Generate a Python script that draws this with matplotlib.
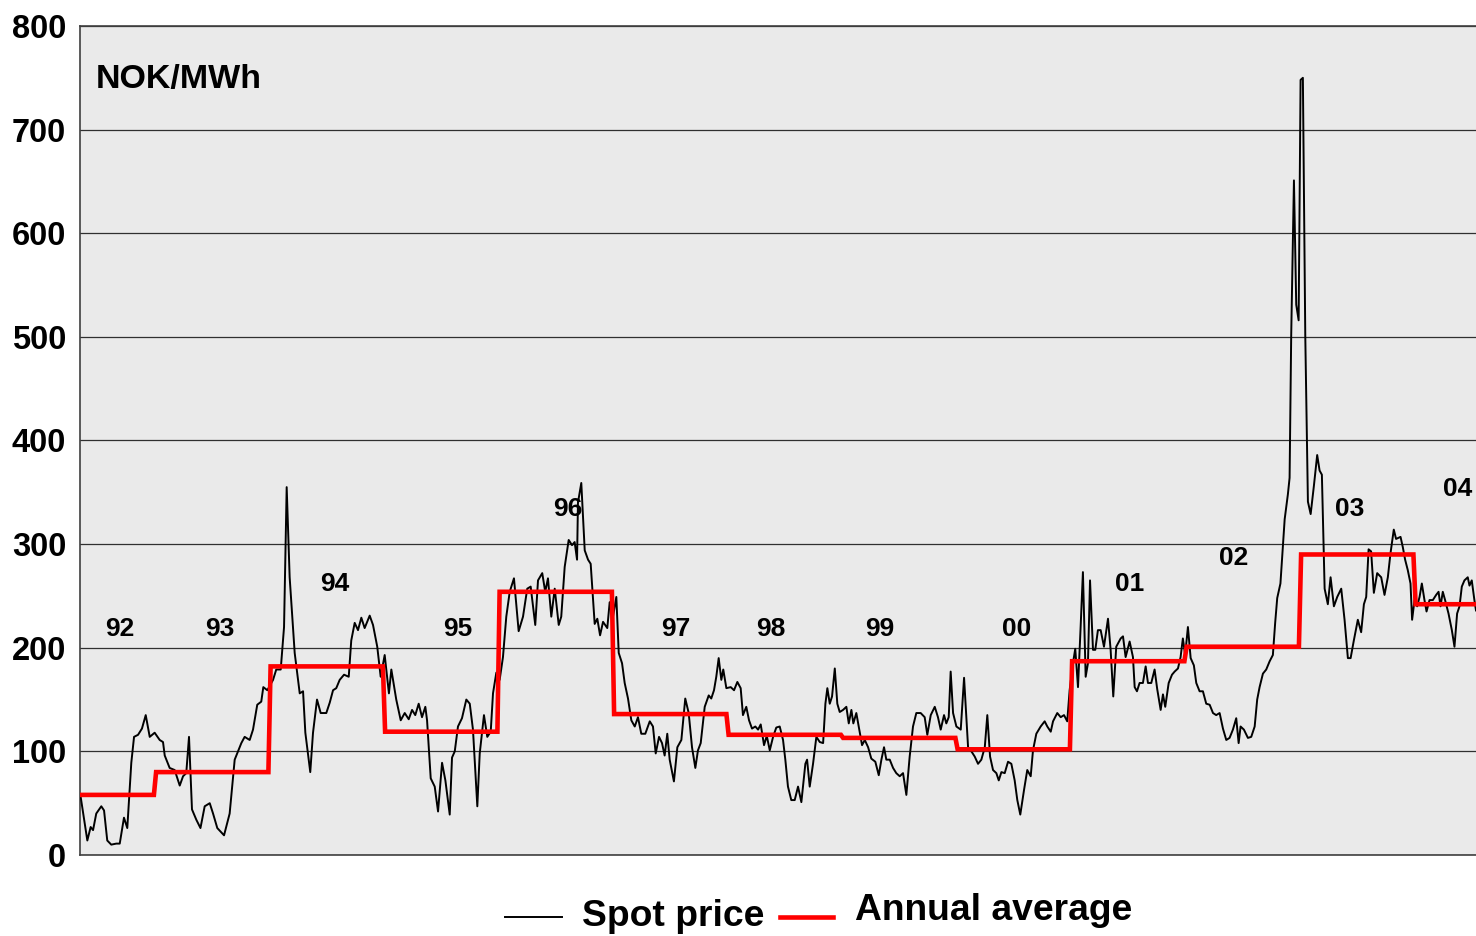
import matplotlib
matplotlib.use("Agg")
import matplotlib.pyplot as plt
from matplotlib.lines import Line2D
import numpy as np

plt.rcParams['font.family'] = ['Liberation Sans', 'DejaVu Sans']

# ---- data ----
spot_time = [
    1992.345, 1992.351, 1992.409, 1992.438, 1992.459, 1992.487, 1992.531, 1992.555, 1992.583, 1992.618,
    1992.662, 1992.692, 1992.729, 1992.758, 1992.793, 1992.817, 1992.852, 1992.886, 1992.919, 1992.954,
    1992.997, 1993.041, 1993.070, 1993.085, 1993.128, 1993.172, 1993.216, 1993.245, 1993.273, 1993.297,
    1993.323, 1993.361, 1993.397, 1993.434, 1993.478, 1993.507, 1993.544, 1993.603, 1993.652, 1993.696,
    1993.754, 1993.783, 1993.827, 1993.856, 1993.893, 1993.928, 1993.946, 1993.981, 1994.031, 1994.059,
    1994.098, 1994.127, 1994.150, 1994.176, 1994.220, 1994.264, 1994.293, 1994.313, 1994.356, 1994.380,
    1994.415, 1994.447, 1994.496, 1994.526, 1994.555, 1994.583, 1994.613, 1994.651, 1994.692, 1994.714,
    1994.744, 1994.773, 1994.802, 1994.831, 1994.875, 1994.904, 1994.941, 1994.971, 1995.006, 1995.043,
    1995.064, 1995.107, 1995.146, 1995.181, 1995.216, 1995.245, 1995.273, 1995.303, 1995.332, 1995.361,
    1995.376, 1995.408, 1995.443, 1995.472, 1995.507, 1995.536, 1995.574, 1995.594, 1995.618, 1995.646,
    1995.681, 1995.719, 1995.749, 1995.777, 1995.815, 1995.836, 1995.873, 1995.902, 1995.932, 1995.952,
    1995.981, 1996.010, 1996.039, 1996.068, 1996.098, 1996.135, 1996.176, 1996.214, 1996.251, 1996.281,
    1996.321, 1996.345, 1996.382, 1996.408, 1996.432, 1996.461, 1996.491, 1996.526, 1996.548, 1996.578,
    1996.613, 1996.642, 1996.665, 1996.686, 1996.694, 1996.723, 1996.753, 1996.782, 1996.805, 1996.840,
    1996.863, 1996.887, 1996.913, 1996.950, 1996.971, 1997.000, 1997.029, 1997.050, 1997.079, 1997.102,
    1997.131, 1997.160, 1997.190, 1997.218, 1997.247, 1997.282, 1997.321, 1997.349, 1997.373, 1997.402,
    1997.428, 1997.451, 1997.474, 1997.495, 1997.532, 1997.562, 1997.597, 1997.631, 1997.661, 1997.690,
    1997.719, 1997.742, 1997.766, 1997.801, 1997.836, 1997.858, 1997.882, 1997.902, 1997.923, 1997.946,
    1997.963, 1997.990, 1998.028, 1998.057, 1998.086, 1998.115, 1998.135, 1998.164, 1998.188, 1998.214,
    1998.243, 1998.267, 1998.290, 1998.319, 1998.343, 1998.369, 1998.398, 1998.426, 1998.456, 1998.485,
    1998.505, 1998.528, 1998.557, 1998.587, 1998.616, 1998.645, 1998.680, 1998.695, 1998.718, 1998.747,
    1998.776, 1998.806, 1998.835, 1998.855, 1998.872, 1998.893, 1998.913, 1998.937, 1998.959, 1998.980,
    1999.009, 1999.038, 1999.059, 1999.082, 1999.099, 1999.125, 1999.146, 1999.175, 1999.199, 1999.228,
    1999.256, 1999.291, 1999.321, 1999.344, 1999.367, 1999.387, 1999.417, 1999.446, 1999.474, 1999.504,
    1999.533, 1999.562, 1999.591, 1999.620, 1999.649, 1999.687, 1999.722, 1999.745, 1999.775, 1999.810,
    1999.838, 1999.862, 1999.891, 1999.911, 1999.932, 1999.949, 1999.970, 1999.999, 2000.037, 2000.066,
    2000.101, 2000.130, 2000.159, 2000.188, 2000.217, 2000.247, 2000.269, 2000.293, 2000.319, 2000.348,
    2000.369, 2000.392, 2000.421, 2000.450, 2000.479, 2000.508, 2000.531, 2000.557, 2000.590, 2000.618,
    2000.648, 2000.668, 2000.697, 2000.735, 2000.770, 2000.793, 2000.823, 2000.843, 2000.880, 2000.910,
    2000.939, 2000.967, 2000.988, 2001.017, 2001.037, 2001.061, 2001.084, 2001.104, 2001.128, 2001.148,
    2001.166, 2001.192, 2001.212, 2001.235, 2001.259, 2001.288, 2001.323, 2001.346, 2001.369, 2001.395,
    2001.434, 2001.454, 2001.477, 2001.512, 2001.541, 2001.556, 2001.576, 2001.599, 2001.628, 2001.652,
    2001.672, 2001.701, 2001.730, 2001.753, 2001.783, 2001.803, 2001.823, 2001.853, 2001.882, 2001.905,
    2001.934, 2001.957, 2001.977, 2001.997, 2002.021, 2002.045, 2002.073, 2002.094, 2002.123, 2002.152,
    2002.181, 2002.211, 2002.240, 2002.268, 2002.298, 2002.327, 2002.356, 2002.385, 2002.414, 2002.443,
    2002.464, 2002.481, 2002.510, 2002.545, 2002.574, 2002.604, 2002.626, 2002.647, 2002.676, 2002.705,
    2002.735, 2002.763, 2002.783, 2002.801, 2002.829, 2002.866, 2002.894, 2002.909, 2002.923, 2002.947,
    2002.967, 2002.988, 2003.005, 2003.025, 2003.046, 2003.069, 2003.093, 2003.121, 2003.150, 2003.171,
    2003.191, 2003.215, 2003.243, 2003.267, 2003.296, 2003.325, 2003.360, 2003.389, 2003.418, 2003.442,
    2003.470, 2003.505, 2003.534, 2003.558, 2003.578, 2003.599, 2003.621, 2003.645, 2003.674, 2003.709,
    2003.738, 2003.767, 2003.790, 2003.819, 2003.839, 2003.878, 2003.898, 2003.918, 2003.941, 2003.965,
    2003.979, 2004.000, 2004.023, 2004.044, 2004.064, 2004.087, 2004.105, 2004.131, 2004.160, 2004.189,
    2004.210, 2004.227, 2004.247, 2004.267, 2004.297, 2004.326, 2004.349, 2004.372, 2004.393, 2004.413,
    2004.436, 2004.465, 2004.480, 2004.500, 2004.523, 2004.537,
]
spot_price = [
    58, 56, 14, 27, 24, 40, 47, 43, 14, 10,
    11, 11, 36, 26, 89, 114, 116, 122, 135, 114,
    118, 111, 109, 96, 84, 82, 67, 76, 79, 114,
    44, 34, 26, 47, 50, 40, 26, 19, 40, 92,
    108, 114, 111, 121, 145, 148, 162, 159, 169, 179,
    179, 220, 355, 268, 195, 156, 158, 118, 80, 118,
    150, 137, 137, 147, 159, 161, 169, 174, 172, 207,
    224, 217, 229, 219, 231, 222, 201, 172, 193, 156,
    179, 150, 130, 137, 131, 140, 135, 146, 133, 143,
    130, 74, 66, 42, 89, 72, 39, 94, 100, 124,
    132, 150, 146, 121, 47, 98, 135, 114, 119, 156,
    176, 169, 191, 230, 254, 267, 216, 230, 257, 259,
    222, 265, 272, 254, 267, 230, 257, 222, 230, 278,
    304, 299, 302, 285, 340, 359, 294, 285, 281, 223,
    228, 212, 225, 219, 244, 230, 249, 195, 185, 166,
    151, 130, 124, 133, 117, 117, 129, 124, 98, 114,
    108, 96, 117, 92, 71, 104, 111, 151, 137, 104,
    84, 101, 108, 143, 154, 151, 159, 172, 190, 169,
    179, 161, 162, 159, 167, 161, 135, 143, 130, 122,
    124, 121, 126, 106, 115, 101, 114, 123, 124, 111,
    92, 66, 53, 53, 66, 51, 88, 92, 66, 88,
    114, 109, 108, 146, 161, 146, 153, 180, 146, 138,
    140, 143, 127, 140, 127, 137, 124, 106, 111, 104,
    93, 90, 77, 92, 104, 92, 92, 84, 79, 76,
    79, 58, 95, 124, 137, 137, 133, 116, 135, 143,
    133, 121, 135, 127, 133, 177, 137, 124, 121, 171,
    104, 100, 95, 88, 92, 104, 135, 95, 82, 79,
    72, 80, 79, 90, 88, 72, 53, 39, 63, 82,
    76, 101, 117, 124, 129, 124, 119, 129, 137, 133,
    135, 129, 159, 185, 199, 162, 220, 273, 172, 185,
    265, 198, 198, 217, 217, 201, 228, 198, 153, 201,
    209, 211, 191, 206, 191, 162, 158, 166, 166, 182,
    166, 166, 179, 160, 140, 155, 143, 166, 174, 177,
    180, 191, 209, 193, 220, 190, 183, 166, 158, 158,
    146, 145, 137, 135, 137, 122, 111, 113, 121, 132,
    108, 124, 121, 113, 114, 124, 150, 162, 175, 179,
    187, 193, 224, 248, 262, 324, 348, 364, 501, 651,
    531, 516, 748, 750, 501, 341, 329, 356, 386, 371,
    367, 257, 242, 268, 240, 249, 257, 227, 190, 190,
    207, 227, 215, 242, 249, 295, 293, 253, 272, 268,
    251, 268, 291, 314, 305, 307, 297, 285, 275, 262,
    227, 246, 240, 249, 262, 246, 235, 246, 246, 251,
    254, 240, 254, 246, 233, 217, 201, 233, 240, 259,
    265, 268, 260, 265, 246, 236,
]

years = [1992, 1993, 1994, 1995, 1996, 1997, 1998, 1999, 2000, 2001, 2002, 2003, 2004]
annual_avg = [58, 80, 182, 119, 254, 136, 116, 113, 102, 187, 201, 290, 242]
year_labels = ["92", "93", "94", "95", "96", "97", "98", "99", "00", "01", "02", "03", "04"]

# label placement (layout, not data)
label_x = [1992.694, 1993.568, 1994.572, 1995.646, 1996.607, 1997.550, 1998.380,
           1999.332, 2000.529, 2001.515, 2002.424, 2003.437, 2004.380]
label_y = [218, 218, 262, 218, 334, 218, 218, 218, 218, 262, 287, 334, 353]

# ---- figure ----
fig = plt.figure(figsize=(14.76, 9.36), dpi=100)
ax = fig.add_axes([80 / 1476, 81 / 936, 1396 / 1476, 829 / 936])
ax.set_facecolor("#EAEAEA")

t_start, t_end = spot_time[0], spot_time[-1]
ax.set_xlim(t_start, t_end)
ax.set_ylim(0, 800)

# grid
ax.set_yticks(np.arange(0, 801, 100))
ax.yaxis.grid(True, color="#303030", linewidth=0.9)
ax.set_axisbelow(True)
ax.set_xticks([])
ax.tick_params(axis="y", length=0, pad=10)
for lbl in ax.get_yticklabels():
    lbl.set_fontsize(23.5)
    lbl.set_fontweight("bold")

for side in ["left", "bottom", "top"]:
    ax.spines[side].set_color("#404040")
    ax.spines[side].set_linewidth(1.2)
ax.spines["right"].set_visible(False)

# spot price
ax.plot(spot_time, spot_price, color="black", linewidth=1.4, zorder=3)

# annual average (weekly series: change takes one week at each year boundary)
week = 1.0 / 52
avg_t = [t_start]
avg_v = [annual_avg[0]]
for i in range(1, len(years)):
    avg_t += [years[i] - week / 2, years[i] + week / 2]
    avg_v += [annual_avg[i - 1], annual_avg[i]]
avg_t.append(t_end)
avg_v.append(annual_avg[-1])
ax.plot(avg_t, avg_v, color="#FF0000", linewidth=3.3, zorder=4,
        solid_joinstyle="miter")

# year labels
for lx, ly, txt in zip(label_x, label_y, year_labels):
    ax.text(lx, ly, txt, fontsize=19, fontweight="bold", ha="center", va="center", zorder=5)

ax.text(0.011, 0.935, "NOK/MWh", transform=ax.transAxes,
        fontsize=24.5, fontweight="bold", ha="left", va="center")

# legend (manual)
fig.add_artist(Line2D([505 / 1476, 562 / 1476], [19 / 936, 19 / 936],
                      color="black", linewidth=1.4, transform=fig.transFigure))
fig.text(582 / 1476, 20 / 936, "Spot price", fontsize=26.8, fontweight="bold",
         ha="left", va="center")
fig.add_artist(Line2D([780 / 1476, 833 / 1476], [19 / 936, 19 / 936],
                      color="#FF0000", linewidth=3.3, transform=fig.transFigure))
fig.text(855 / 1476, 25 / 936, "Annual average", fontsize=26.8, fontweight="bold",
         ha="left", va="center")

fig.savefig("out.png", dpi=100, facecolor="white")
